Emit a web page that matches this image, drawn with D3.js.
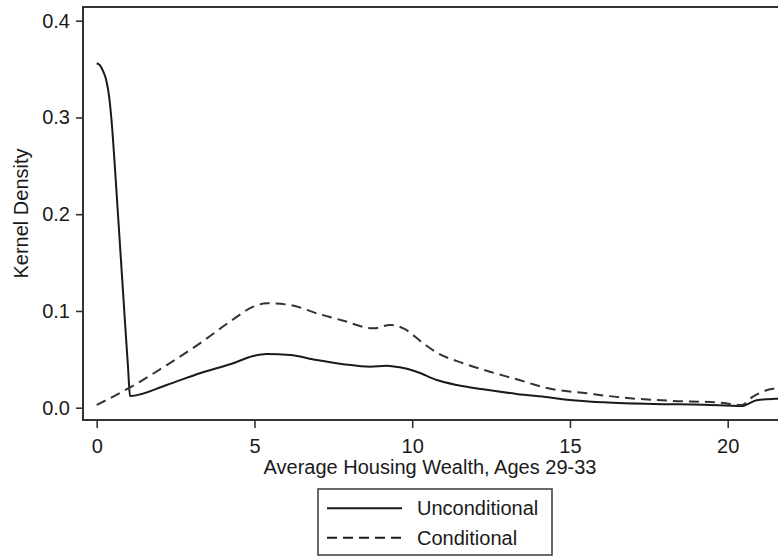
<!DOCTYPE html>
<html>
<head>
<meta charset="utf-8">
<script src="https://cdn.jsdelivr.net/npm/d3@7"></script>
<style>
  body { margin: 0; background: #fff; }
  text { font-family: "Liberation Sans", Arial, sans-serif; fill: #1a1a1a; }
</style>
</head>
<body>
<div id="chart"></div>
<script>
// size of the page
var svgWidth = 778;
var svgHeight = 557;

// data
var uncondX = [0, 0.1, 0.2, 0.3, 0.4, 0.5, 0.6, 0.7, 0.8, 0.9, 1.0, 1.055,
  2.22, 3.27, 4.33, 4.96, 5.39, 6.13, 6.97, 7.82, 8.66, 9.19, 9.61, 10.14, 10.78,
  11.41, 12.25, 13.31, 14.31, 15.0, 16.06, 17.64, 19.23, 20.44, 20.92, 21.5, 21.8];
var uncondY = [0.356, 0.354, 0.348, 0.339, 0.32, 0.285, 0.237, 0.187, 0.137, 0.087, 0.038, 0.012,
  0.0235, 0.0356, 0.046, 0.0534, 0.0555, 0.0545, 0.0493, 0.045, 0.0424, 0.0434, 0.0417, 0.0372, 0.0286,
  0.0235, 0.019, 0.0142, 0.0107, 0.008, 0.0056, 0.0038, 0.0031, 0.0018, 0.0078, 0.0092, 0.0095];

var condX = [0, 1.06, 2.22, 3.27, 4.33, 4.96, 5.39, 6.13, 6.97, 7.82, 8.77, 9.3, 9.72,
  10.35, 10.78, 11.62, 12.46, 13.31, 14.31, 15.53, 16.59, 18.17, 19.75, 20.44, 20.8, 21.34, 21.8];
var condY = [0.0028, 0.021, 0.044, 0.0665, 0.0914, 0.1044, 0.1079, 0.1062, 0.0976, 0.0899, 0.082, 0.0855, 0.082,
  0.0665, 0.0569, 0.0459, 0.0372, 0.0294, 0.02, 0.0149, 0.0107, 0.0072, 0.0052, 0.0028, 0.0114, 0.019, 0.021];

var xTicks = [0, 5, 10, 15, 20];
var yTicks = [0, 0.1, 0.2, 0.3, 0.4];
var seriesNames = ["Unconditional", "Conditional"];

// plot frame
var frame = { left: 83, top: 7, bottom: 420, right: 800 };

var svg = d3.select("#chart")
  .append("svg")
  .attr("width", svgWidth)
  .attr("height", svgHeight);

var x = d3.scaleLinear().domain([0, 20]).range([96.7, 727.7]);
var y = d3.scaleLinear().domain([0, 0.4]).range([407.7, 20.7]);

var clip = svg.append("clipPath").attr("id", "plotclip")
  .append("rect")
  .attr("x", frame.left).attr("y", frame.top)
  .attr("width", frame.right - frame.left).attr("height", frame.bottom - frame.top);

// axes
var leftAxis = d3.axisLeft(y).tickValues(yTicks).tickFormat(d3.format(".1f"))
  .tickSize(7).tickSizeOuter(0).tickPadding(6);
var bottomAxis = d3.axisBottom(x).tickValues(xTicks).tickFormat(d3.format("d"))
  .tickSize(8).tickSizeOuter(0).tickPadding(11);

var gy = svg.append("g").attr("transform", `translate(${frame.left},0)`).call(leftAxis);
var gx = svg.append("g").attr("transform", `translate(0,${frame.bottom})`).call(bottomAxis);
[gy, gx].forEach(function(g) {
  g.select(".domain").remove();
  g.selectAll(".tick line").attr("stroke", "#333").attr("stroke-width", 1.6);
  g.selectAll(".tick text").style("font-size", "20px").attr("fill", "#1a1a1a");
});

// frame lines (left, top, bottom)
svg.append("path")
  .attr("d", `M${frame.right},${frame.top}H${frame.left}V${frame.bottom}H${frame.right}`)
  .attr("fill", "none")
  .attr("stroke", "#333")
  .attr("stroke-width", 2);

// lines
var line = d3.line()
  .x(d => x(d[0]))
  .y(d => y(d[1]))
  .curve(d3.curveMonotoneX);

var uncondData = uncondX.map((v, i) => [v, uncondY[i]]);
var condData = condX.map((v, i) => [v, condY[i]]);

var plot = svg.append("g").attr("clip-path", "url(#plotclip)");

plot.append("path")
  .datum(uncondData)
  .attr("d", line)
  .attr("fill", "none")
  .attr("stroke", "#1a1a1a")
  .attr("stroke-width", 2);

plot.append("path")
  .datum(condData)
  .attr("d", line)
  .attr("fill", "none")
  .attr("stroke", "#333")
  .attr("stroke-width", 2)
  .attr("stroke-dasharray", "10,6");

// axis titles
svg.append("text")
  .attr("transform", "translate(28,213.5) rotate(-90)")
  .style("text-anchor", "middle")
  .style("font-size", "20px")
  .text("Kernel Density");

svg.append("text")
  .attr("x", 430)
  .attr("y", 473.5)
  .style("text-anchor", "middle")
  .style("font-size", "20px")
  .text("Average Housing Wealth, Ages 29-33");

// legend
var legend = svg.append("g");
legend.append("rect")
  .attr("x", 318).attr("y", 489)
  .attr("width", 234).attr("height", 66)
  .attr("fill", "#fff")
  .attr("stroke", "#444")
  .attr("stroke-width", 1.6);

var legendRows = [
  { name: seriesNames[0], dash: null, y: 508.3 },
  { name: seriesNames[1], dash: "10,6", y: 537.7 }
];
legendRows.forEach(function(r) {
  legend.append("line")
    .attr("x1", 327).attr("x2", 402)
    .attr("y1", r.y).attr("y2", r.y)
    .attr("stroke", "#1a1a1a")
    .attr("stroke-width", 2)
    .attr("stroke-dasharray", r.dash);
  legend.append("text")
    .attr("x", 417)
    .attr("y", r.y + 7)
    .style("font-size", "20px")
    .text(r.name);
});
</script>
</body>
</html>
